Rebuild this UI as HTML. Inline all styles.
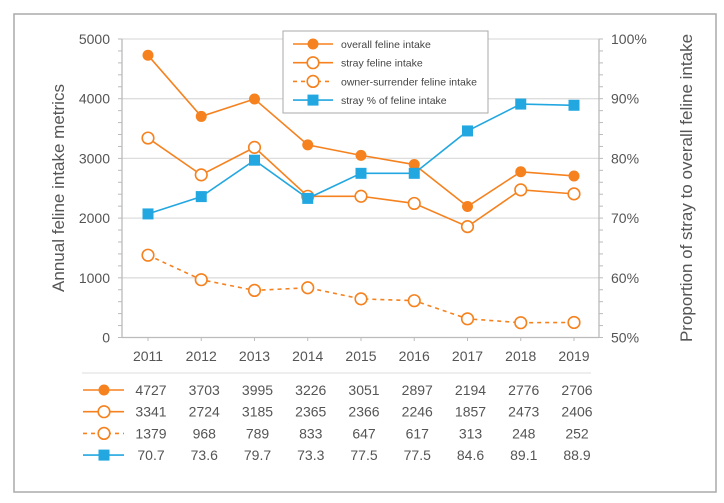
<!DOCTYPE html>
<html><head><meta charset="utf-8"><style>
body{margin:0;background:#fff;}
svg{display:block;font-family:"Liberation Sans",sans-serif;}
</style></head><body>
<svg id="c" width="724" height="503" xmlns="http://www.w3.org/2000/svg">
<rect x="14" y="14" width="702" height="478" fill="#fff" stroke="#aaa" stroke-width="1.5"/>
<g id="grid"></g><g id="axes"></g><g id="series"></g><g id="table"></g>
<text transform="translate(64,188) rotate(-90)" text-anchor="middle" font-size="17" fill="#555">Annual feline intake metrics</text>
<text transform="translate(692,188) rotate(-90)" text-anchor="middle" font-size="17" fill="#555">Proportion of stray to overall feline intake</text>
<g>
<rect x="283" y="31" width="205" height="82" fill="#fff" stroke="#aaa" stroke-width="1"/>
<g id="legend"></g>
</g>
</svg>
<script>
const years=["2011","2012","2013","2014","2015","2016","2017","2018","2019"];
const overall=[4727,3703,3995,3226,3051,2897,2194,2776,2706];
const stray=[3341,2724,3185,2365,2366,2246,1857,2473,2406];
const owner=[1379,968,789,833,647,617,313,248,252];
const strayPct=[70.7,73.6,79.7,73.3,77.5,77.5,84.6,89.1,88.9];
const yTicks=[0,1000,2000,3000,4000,5000];
const y2Ticks=[50,60,70,80,90,100];
const legendLabels=["overall feline intake","stray feline intake","owner-surrender feline intake","stray % of feline intake"];
const OR="#F5821F",BL="#22A7E0";
const NS="http://www.w3.org/2000/svg";
const x=i=>148+i*(574-148)/8;
const y=v=>337.5-v*(298.5/5000);
const y2=p=>337.5-(p-50)*(298.5/50);
function mk(t,a,p){const e=document.createElementNS(NS,t);for(const k in a)e.setAttribute(k,a[k]);p.appendChild(e);return e;}
const G=document.getElementById('grid'),A=document.getElementById('axes'),S=document.getElementById('series'),T=document.getElementById('table'),L=document.getElementById('legend');
yTicks.forEach(v=>{
 if(v>0){const l=mk('line',{x1:122,x2:599,y1:y(v),y2:y(v),stroke:'#ddd','stroke-width':1.3},G);
 
 }
 const t=mk('text',{x:110,y:y(v)+5,'text-anchor':'end','font-size':14,fill:'#555'},A);t.textContent=v;
 
 
});
for(let v=0;v<=5000;v+=200){mk('line',{x1:118,x2:122,y1:y(v),y2:y(v),stroke:'#bbb'},A);mk('line',{x1:599,x2:603,y1:y(v),y2:y(v),stroke:'#bbb'},A);}
y2Ticks.forEach(p=>{const t=mk('text',{x:611,y:y2(p)+5,'font-size':14,fill:'#555'},A);t.textContent=p+'%';
 
 });
mk('line',{x1:122,x2:122,y1:39,y2:337.5,stroke:'#bbb','stroke-width':1.3},A);
mk('line',{x1:599,x2:599,y1:39,y2:337.5,stroke:'#bbb','stroke-width':1.3},A);
mk('line',{x1:122,x2:599,y1:337.5,y2:337.5,stroke:'#bbb','stroke-width':1.3},A);
years.forEach((yr,i)=>{mk('line',{x1:x(i),x2:x(i),y1:337.5,y2:341,stroke:'#bbb'},A);
 const t=mk('text',{x:x(i),y:361,'text-anchor':'middle','font-size':14,fill:'#555'},A);t.textContent=yr;
 
 });
function marker(kind,cx,cy,p){
 if(kind==0)return mk('circle',{cx,cy,r:5.5,fill:OR},p);
 if(kind==1||kind==2)return mk('circle',{cx,cy,r:5.8,fill:'#fff',stroke:OR,'stroke-width':1.6},p);
 return mk('rect',{x:cx-5.5,y:cy-5.5,width:11,height:11,fill:BL},p);
}
const defs=[[overall,y,OR,''],[stray,y,OR,''],[owner,y,OR,'4 4'],[strayPct,y2,BL,'']];
const names=['overall-intake','stray-intake','owner-surrender-intake','stray-percent'];
defs.forEach((d,k)=>{
 const g=mk('g',{},S);
 
 
 const pts=d[0].map((v,i)=>x(i)+','+d[1](v)).join(' ');
 mk('polyline',{points:pts,fill:'none',stroke:d[2],'stroke-width':1.6,'stroke-dasharray':d[3]},g);
 d[0].forEach((v,i)=>{const m=marker(k,x(i),d[1](v),g);
  
  });
 const ly=44+k*18.7;
 mk('line',{x1:293,x2:333,y1:ly,y2:ly,stroke:d[2],'stroke-width':1.6,'stroke-dasharray':d[3]},L);
 marker(k,313,ly,L);
 const lt=mk('text',{x:341,y:ly+4,'font-size':10.5,fill:'#444'},L);lt.textContent=legendLabels[k];
 
 
 const ty=394+k*21.7;
 mk('line',{x1:83,x2:124,y1:ty-4,y2:ty-4,stroke:d[2],'stroke-width':1.6,'stroke-dasharray':d[3]},T);
 marker(k,104,ty-4,T);
 d[0].forEach((v,i)=>{const t=mk('text',{x:x(i)+3,y:ty+1,'text-anchor':'middle','font-size':14,fill:'#555'},T);t.textContent=v;
  
  });
});
mk('line',{x1:82,x2:591,y1:373,y2:373,stroke:'#e3e3e3','stroke-width':1.2},T);
</script>
</body></html>
